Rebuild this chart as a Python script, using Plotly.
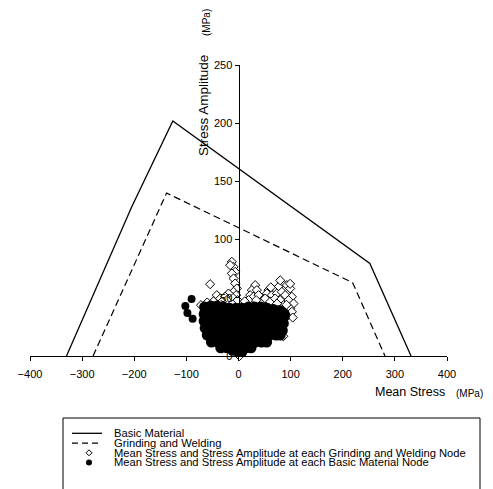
import plotly.graph_objects as go

# ---------------- data ----------------
basic_x = [-330, -205, -126, 252, 331]
basic_y = [0, 128, 202, 79.5, 0]

grind_x = [-279, -138, 219, 281]
grind_y = [0, 140, 63, 0]

# Grinding and Welding nodes (open diamonds)
gw_x = [-12.8, -9.6, -16.0, -6.4, -12.8, -9.6, -6.4, -3.2, -9.6, -4.5, -1.9, -12.8, -19.2,
        -54.4, -41.6, -35.0, -25.6, -22.4, -32.0, -72.0, -48.0, -60.0,
        32.0, 25.6, 35.2, 22.4, 28.8, 38.4, 19.2, 44.8, 34.0, 12.0,
        83.2, 92.8, 99.2, 76.8, 67.2, 57.6, 54.4, 64.0, 73.6, 83.2, 89.6, 102.4, 96.0,
        105.6, 99.2, 51.2, 60.8, 70.4, 80.0, 86.4, 102.4, 99.0, 80.0, 86.0, 2.0,
        92.0, 74.0, 104.0, 62.0]
gw_y = [80.9, 76.6, 78.0, 72.3, 70.9, 66.6, 62.3, 58.0, 55.1, 52.3, 48.0, 50.9, 53.7,
        61.7, 52.3, 49.4, 50.9, 48.0, 46.6, 43.7, 47.0, 46.0,
        60.9, 56.6, 56.6, 52.3, 50.9, 52.3, 48.0, 46.6, 48.0, 47.0,
        62.9, 60.9, 58.0, 59.4, 56.6, 56.6, 53.7, 52.3, 53.7, 55.1, 52.3, 50.9, 48.0,
        45.1, 40.9, 49.4, 46.6, 49.4, 48.0, 43.7, 38.0, 62.0, 65.0, 17.0, 0.0,
        44.0, 45.0, 33.0, 59.0]

# Basic Material nodes (filled circles)
bm_x = [-90, -102, -98, -88,
        -65, -53, -41, -29, -17, -5, 7, 19, 31, 43, 55, 67, 79, 88,
        -66, -54, -42, -30, -18, -6, 6, 18, 30, 42, 54, 66, 78, 88,
        -66, -54, -42, -30, -18, -6, 6, 18, 30, 42, 54, 66, 78, 86,
        -64, -52, -40, -28, -16, -4, 8, 20, 32, 44, 56, 68, 80, 84,
        -60, -48, -36, -24, -12, 0, 12, 24, 36, 48, 60, 72, 80,
        -52, -40, -28, -16, -4, 8, 20, 32, 44, 54,
        -34, -22, -10, 2, 14, 24,
        -12, -2, 8, 2]
bm_y = [49, 43, 37, 32,
        42, 43, 43, 42, 41, 41, 41, 42, 42, 42, 41, 40, 39, 36,
        36, 36, 36, 36, 36, 36, 36, 36, 36, 36, 36, 36, 36, 34,
        30, 30, 30, 30, 30, 30, 30, 30, 30, 30, 30, 30, 30, 28,
        24, 24, 24, 24, 24, 24, 24, 24, 24, 24, 24, 24, 24, 22,
        18, 18, 18, 18, 18, 18, 18, 18, 18, 18, 18, 18, 18,
        12, 12, 12, 12, 12, 12, 12, 12, 12, 12,
        7, 7, 7, 7, 7, 7,
        4, 3, 3, 1]
bm_size = [8, 8, 8, 8] + [11] * (len(bm_x) - 8) + [9, 9, 9, 8]

x_ticks = [-400, -300, -200, -100, 0, 100, 200, 300, 400]
y_ticks = [0, 50, 100, 150, 200, 250]

legend_labels = ["Basic Material", "Grinding and Welding",
                 "Mean Stress and Stress Amplitude at each Grinding and Welding Node",
                 "Mean Stress and Stress Amplitude at each Basic Material Node"]

# ---------------- layout helpers ----------------
OFF = 8                      # page body margin in the browser
W, H = 493 - OFF, 489 - OFF
# screen-pixel extents of the plot area
SX0, SX1, SY0, SY1 = 30, 447, 65, 356
L, T = SX0 - OFF, SY0 - OFF
R, B = W - (SX1 - OFF), H - (SY1 - OFF)
PW, PH = SX1 - SX0, SY1 - SY0


def px_x(p):
    return (p - SX0) / PW


def px_y(p):
    return (SY1 - p) / PH


FONT = "Liberation Sans, Arial, sans-serif"

fig = go.Figure()
fig.add_trace(go.Scatter(x=gw_x, y=gw_y, mode="markers", cliponaxis=False,
                         marker=dict(symbol="diamond", size=7, color="white", opacity=1,
                                     line=dict(color="black", width=1)),
                         showlegend=False))
fig.add_trace(go.Scatter(x=bm_x, y=bm_y, mode="markers",
                         marker=dict(symbol="circle", size=bm_size, color="black", opacity=1,
                                     line=dict(width=0)),
                         showlegend=False))
fig.add_trace(go.Scatter(x=basic_x, y=basic_y, mode="lines",
                         line=dict(color="black", width=1.3), showlegend=False))
fig.add_trace(go.Scatter(x=grind_x, y=grind_y, mode="lines",
                         line=dict(color="black", width=1.2, dash="7px,4px"),
                         showlegend=False))

shapes = []
annotations = []

# legend box
shapes.append(dict(type="rect", xref="paper", yref="paper",
                   x0=px_x(63), x1=px_x(480), y0=px_y(418), y1=px_y(500),
                   line=dict(color="black", width=1)))
ly = [433.3, 443.2, 452.8, 462.4]
shapes.append(dict(type="line", xref="paper", yref="paper",
                   x0=px_x(72), x1=px_x(102), y0=px_y(ly[0]), y1=px_y(ly[0]),
                   line=dict(color="black", width=1.3)))
shapes.append(dict(type="line", xref="paper", yref="paper",
                   x0=px_x(72), x1=px_x(102), y0=px_y(ly[1]), y1=px_y(ly[1]),
                   line=dict(color="black", width=1.2, dash="6px,4px")))
cx, cy, d = 89, ly[2], 3
shapes.append(dict(type="path", xref="paper", yref="paper",
                   path=f"M {px_x(cx)} {px_y(cy - d)} L {px_x(cx + d)} {px_y(cy)} "
                        f"L {px_x(cx)} {px_y(cy + d)} L {px_x(cx - d)} {px_y(cy)} Z",
                   line=dict(color="black", width=1), fillcolor="white"))
cy = ly[3]
shapes.append(dict(type="circle", xref="paper", yref="paper",
                   x0=px_x(cx - 3), x1=px_x(cx + 3), y0=px_y(cy - 3), y1=px_y(cy + 3),
                   line=dict(color="black", width=0), fillcolor="black"))
for lab, yy in zip(legend_labels, ly):
    annotations.append(dict(text=lab, xref="paper", yref="paper",
                            x=px_x(112), y=px_y(yy), xanchor="left", yanchor="middle",
                            showarrow=False, font=dict(size=11.2, family=FONT, color="black")))

# axis titles
annotations.append(dict(text="Stress Amplitude", xref="paper", yref="paper",
                        x=px_x(203), y=px_y(106), textangle=-90, showarrow=False,
                        xanchor="center", yanchor="middle",
                        font=dict(size=13.5, family=FONT, color="black")))
annotations.append(dict(text="(MPa)", xref="paper", yref="paper",
                        x=px_x(206), y=px_y(23), textangle=-90, showarrow=False,
                        xanchor="center", yanchor="middle",
                        font=dict(size=10, family=FONT, color="black")))
annotations.append(dict(text="Mean Stress", xref="paper", yref="paper",
                        x=px_x(373), y=px_y(392), showarrow=False,
                        xanchor="left", yanchor="middle",
                        font=dict(size=12.5, family=FONT, color="black")))
annotations.append(dict(text="(MPa)", xref="paper", yref="paper",
                        x=px_x(485), y=px_y(393), showarrow=False,
                        xanchor="right", yanchor="middle",
                        font=dict(size=10, family=FONT, color="black")))

fig.update_layout(
    template="none",
    width=W, height=H,
    margin=dict(l=L, r=R, t=T, b=B),
    paper_bgcolor="white", plot_bgcolor="white",
    showlegend=False,
    shapes=shapes, annotations=annotations,
    xaxis=dict(range=[-400, 400], tickvals=x_ticks, showgrid=False, zeroline=False,
               showline=True, linecolor="black", linewidth=1,
               ticks="outside", ticklen=4, tickcolor="black",
               tickfont=dict(size=11, family=FONT, color="black"),
               ticklabelstandoff=4),
    yaxis=dict(range=[0, 250], tickvals=y_ticks, showgrid=False, zeroline=False,
               anchor="free", position=0.5,
               showline=True, linecolor="black", linewidth=1,
               ticks="outside", ticklen=4, tickcolor="black",
               tickfont=dict(size=11, family=FONT, color="black")),
    font=dict(family=FONT, color="black"),
)

fig.write_html("out.html")
